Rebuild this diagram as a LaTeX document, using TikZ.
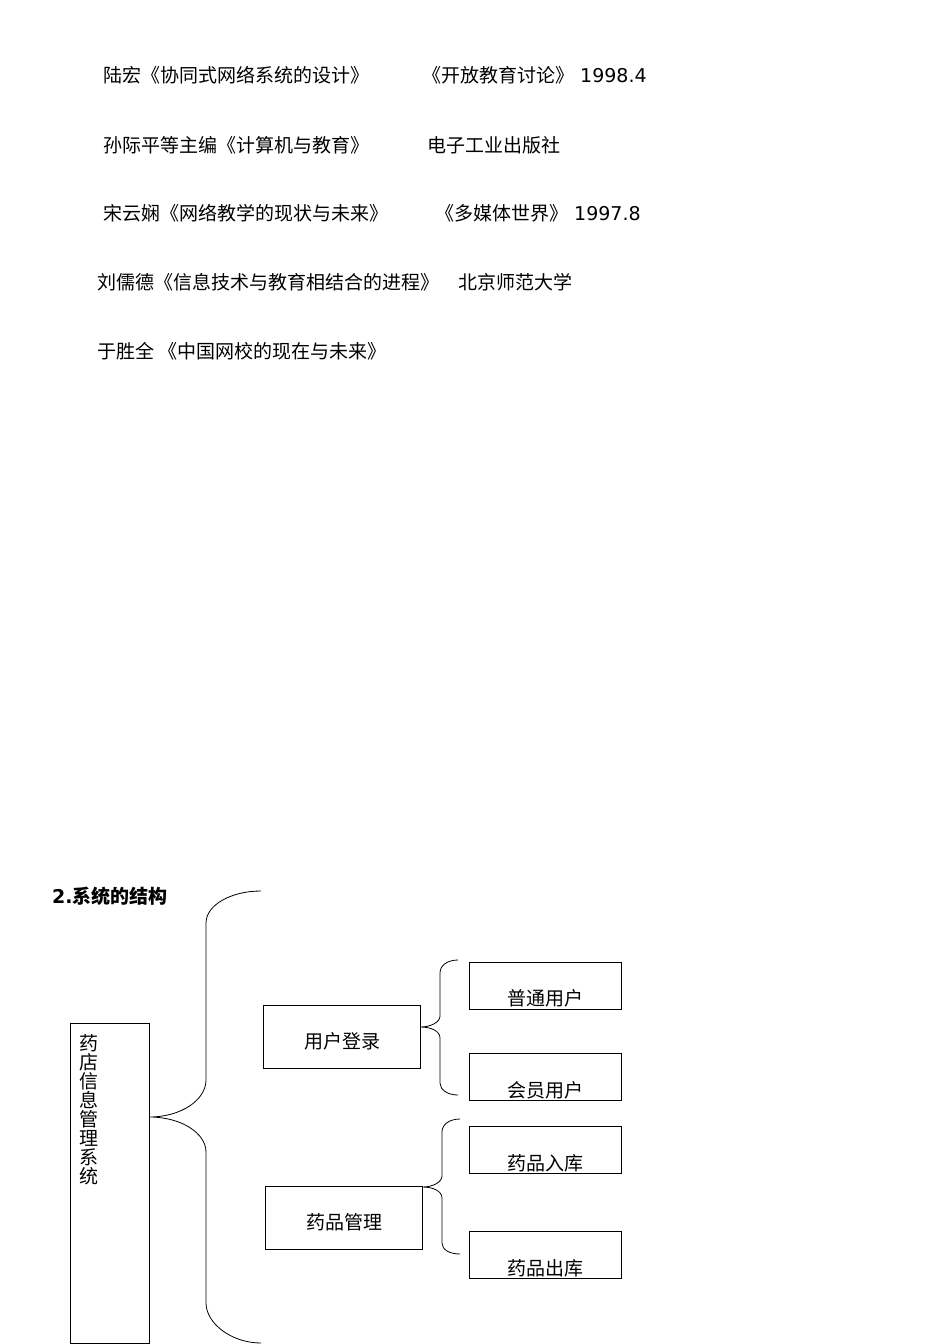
\documentclass[tikz,border=0pt]{standalone}
\usepackage{fontspec}
\setmainfont{Noto Sans CJK SC}
\newfontfamily\djv{DejaVu Sans}
\begin{document}
\begin{tikzpicture}[x=1pt,y=-1pt,
  txt/.style={anchor=west,inner sep=0pt,font=\fontsize{19}{23}\selectfont},
  box/.style={draw,line width=0.8pt,inner sep=0pt},
  lbl/.style={inner sep=0pt,font=\fontsize{19}{23}\selectfont},
  br/.style={line width=0.8pt}]
\useasboundingbox (0,0) rectangle (950,1344);
% references
\node[txt] (r1a) at (103,75) {陆宏《协同式网络系统的设计》};
\node[txt] (r1b) at (422,75) {《开放教育讨论》{\djv\ 1998.4}};
\node[txt] (r2a) at (103,145) {孙际平等主编《计算机与教育》};
\node[txt] (r2b) at (427,145) {电子工业出版社};
\node[txt] (r3a) at (103,213) {宋云娴《网络教学的现状与未来》};
\node[txt] (r3b) at (435,213) {《多媒体世界》{\djv\ 1997.8}};
\node[txt] (r4a) at (97,282) {刘儒德《信息技术与教育相结合的进程》};
\node[txt] (r4b) at (458,282) {北京师范大学};
\node[txt] (r5a) at (97,351) {于胜全 《中国网校的现在与未来》};
% title
\node[txt,font=\fontsize{19}{23}\selectfont\bfseries] (title) at (52,896) {{\djv\bfseries 2.}系统的结构};
% boxes
\node[box,minimum width=79,minimum height=320] (main) at (109.5,1183) {};
\node[inner sep=0pt,anchor=north,align=center,font=\fontsize{19}{19}\selectfont] (mainl) at (89,1034) {药\\店\\信\\息\\管\\理\\系\\统};
\node[box,minimum width=157,minimum height=63] (yh) at (341.5,1036.5) {};
\node[lbl] (yhl) at (342,1041) {用户登录};
\node[box,minimum width=157,minimum height=63] (yp) at (343.5,1217.5) {};
\node[lbl] (ypl) at (344,1222) {药品管理};
\node[box,minimum width=152,minimum height=47] (pt) at (545,985.5) {};
\node[lbl] (ptl) at (545,998) {普通用户};
\node[box,minimum width=152,minimum height=47] (hy) at (545,1077) {};
\node[lbl] (hyl) at (545,1090) {会员用户};
\node[box,minimum width=152,minimum height=47] (rk) at (545,1149.5) {};
\node[lbl] (rkl) at (545,1163) {药品入库};
\node[box,minimum width=152,minimum height=47] (ck) at (545,1254.5) {};
\node[lbl] (ckl) at (545,1268) {药品出库};
% big brace
\coordinate (bt) at (261,891);
\coordinate (bb) at (261,1343);
\coordinate (btip) at (main.east |- 0,1117);
\draw[br] (bt) .. controls (231,891) and (206,905) .. (206,923) -- (206,1080)
  .. controls (206,1100) and (181,1117) .. (btip)
  .. controls (181,1117) and (206,1133) .. (206,1152) -- (206,1303)
  .. controls (206,1323) and (231,1343) .. (bb);
% brace 1
\coordinate (s1t) at (458,960);
\coordinate (s1b) at (458,1095);
\coordinate (s1tip) at (yh.east |- 0,1027);
\draw[br] (s1t) .. controls (448,960) and (440,965) .. (440,973) -- (440,1016)
  .. controls (440,1022) and (431,1027) .. (s1tip)
  .. controls (431,1027) and (440,1031) .. (440,1038) -- (440,1083)
  .. controls (440,1090) and (448,1095) .. (s1b);
% brace 2
\coordinate (s2t) at (460,1119);
\coordinate (s2b) at (460,1254);
\coordinate (s2tip) at (yp.east |- 0,1187);
\draw[br] (s2t) .. controls (450,1119) and (442,1124) .. (442,1132) -- (442,1176)
  .. controls (442,1182) and (433,1187) .. (s2tip)
  .. controls (433,1187) and (442,1191) .. (442,1198) -- (442,1243)
  .. controls (442,1250) and (450,1254) .. (s2b);
\end{tikzpicture}
\end{document}
